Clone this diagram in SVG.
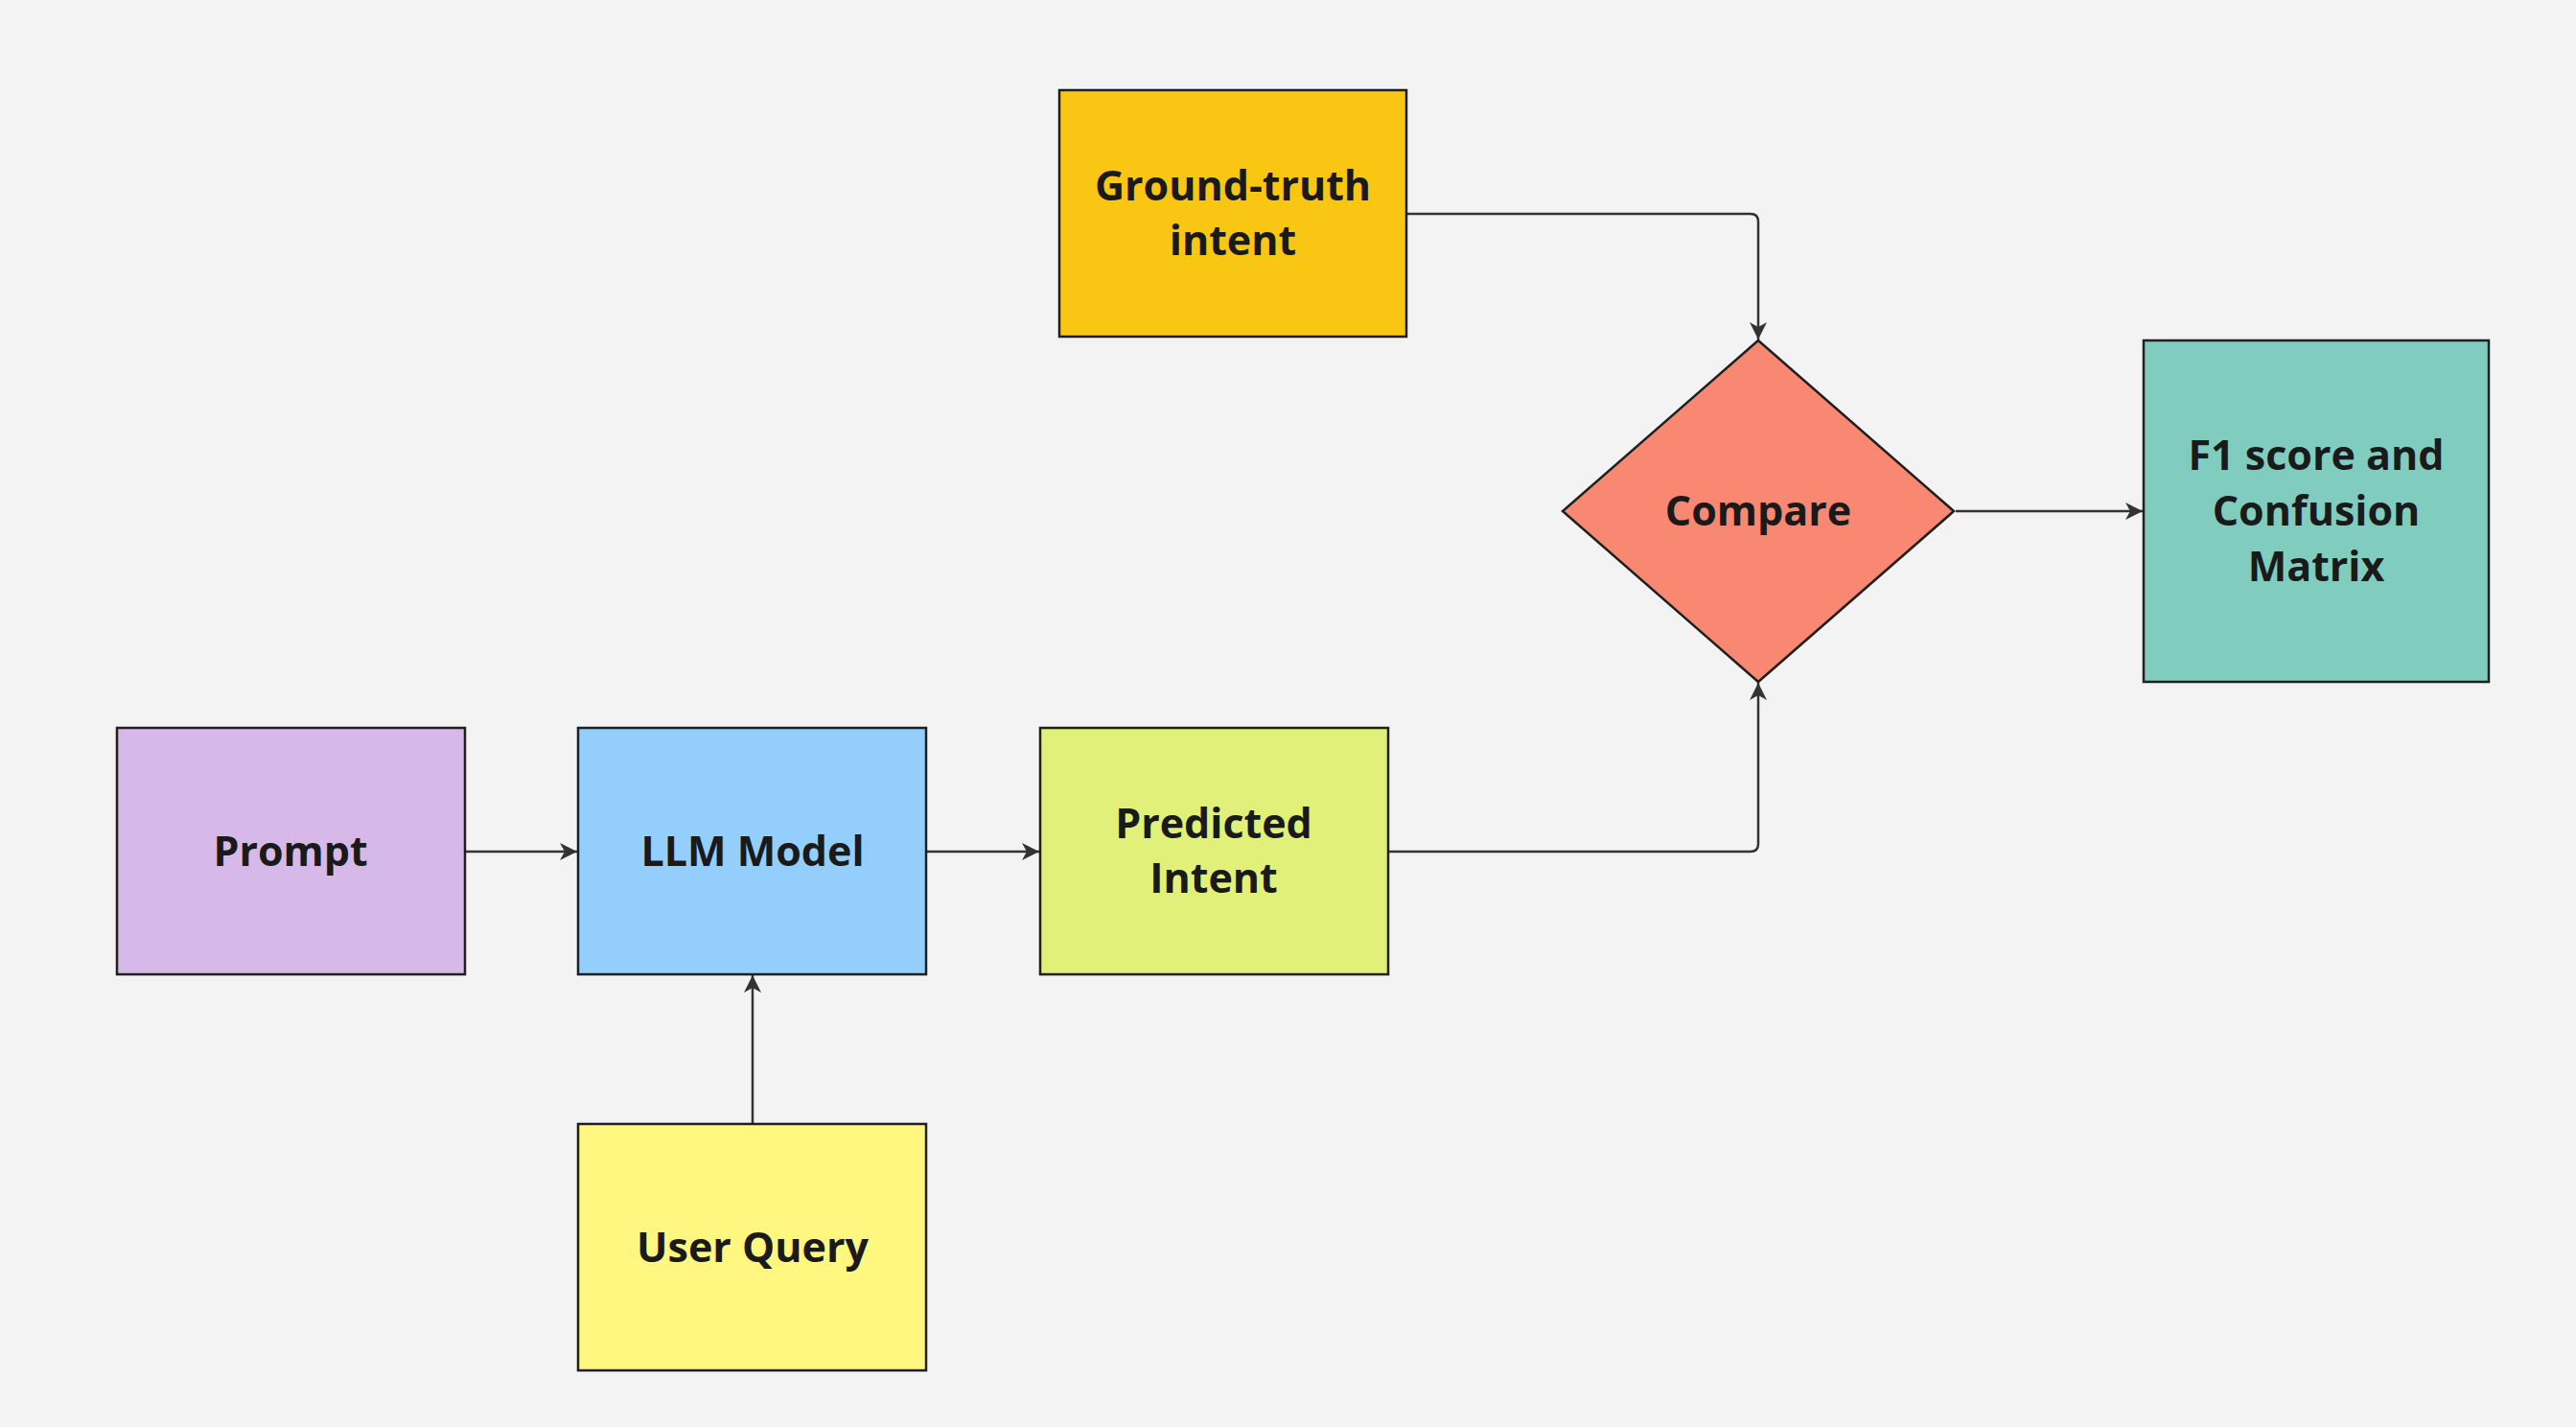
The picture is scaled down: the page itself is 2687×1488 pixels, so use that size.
<svg xmlns="http://www.w3.org/2000/svg" width="2687" height="1488" viewBox="0 0 2687 1488">
<style>
.n{stroke:#1f1f1f;stroke-width:2.5}
.t{font-family:"Open Sans","Noto Sans","Liberation Sans",sans-serif;font-weight:700;font-size:43px;fill:#1a1a1a;text-anchor:middle}
.c{fill:none;stroke:#333333;stroke-width:2.5}
</style>
<defs>
<marker id="ah" markerUnits="userSpaceOnUse" markerWidth="20" markerHeight="20" viewBox="0 0 20 20" refX="18" refY="10" orient="auto">
<path d="M0,1 L18,10 L0,19 L5,10 z" fill="#333333"/>
</marker>
</defs>
<rect width="2687" height="1488" fill="#f3f3f3"/>
<g id="connectors">
<path class="c" d="M1468,223 H1826 Q1834,223 1834,231 V354" marker-end="url(#ah)"/>
<path class="c" d="M2040,533 H2235" marker-end="url(#ah)"/>
<path class="c" d="M486,888 H602" marker-end="url(#ah)"/>
<path class="c" d="M967,888 H1084" marker-end="url(#ah)"/>
<path class="c" d="M1449,888 H1826 Q1834,888 1834,880 V712" marker-end="url(#ah)"/>
<path class="c" d="M785,1171 V1017" marker-end="url(#ah)"/>
</g>
<g id="ground-truth">
<rect class="n" x="1105" y="94" width="362" height="257" fill="#f9c713"/>
<text class="t" x="1286" y="209">Ground-truth</text>
<text class="t" x="1286" y="266">intent</text>
</g>
<g id="compare">
<polygon class="n" points="1834,355 2038,533 1834,711 1630,533" fill="#f88871"/>
<text class="t" x="1834" y="548">Compare</text>
</g>
<g id="f1">
<rect class="n" x="2236" y="355" width="360" height="356" fill="#80cdbf"/>
<text class="t" x="2416" y="490">F1 score and</text>
<text class="t" x="2416" y="548">Confusion</text>
<text class="t" x="2416" y="606">Matrix</text>
</g>
<g id="prompt">
<rect class="n" x="122" y="759" width="363" height="257" fill="#d7b9e9"/>
<text class="t" x="303" y="903">Prompt</text>
</g>
<g id="llm">
<rect class="n" x="603" y="759" width="363" height="257" fill="#94cefc"/>
<text class="t" x="785" y="903">LLM Model</text>
</g>
<g id="predicted">
<rect class="n" x="1085" y="759" width="363" height="257" fill="#e1f078"/>
<text class="t" x="1266" y="874">Predicted</text>
<text class="t" x="1266" y="931">Intent</text>
</g>
<g id="user-query">
<rect class="n" x="603" y="1172" width="363" height="257" fill="#fff780"/>
<text class="t" x="785" y="1316">User Query</text>
</g>
</svg>
